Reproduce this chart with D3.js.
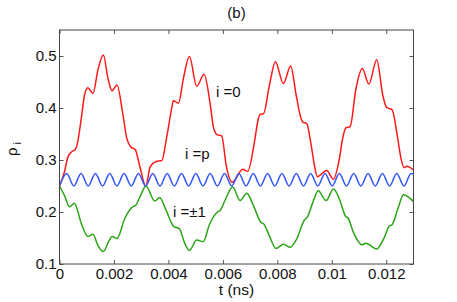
<!DOCTYPE html>
<html>
<head>
<meta charset="utf-8">
<script src="https://cdn.jsdelivr.net/npm/d3@7"></script>
<style>
  body { margin: 0; background: #fff; }
  text { font-family: "Liberation Sans", Arial, sans-serif; fill: #111; }
</style>
</head>
<body>
<div id="chart"></div>
<script>
// time axis values (ns) and ticks
var xTicks = [0, 0.002, 0.004, 0.006, 0.008, 0.01, 0.012];
var yTicks = [0.1, 0.2, 0.3, 0.4, 0.5];

// i = 0 (red)
var redT = [0, 0.00018, 0.00031, 0.00045, 0.00058, 0.00067, 0.0008, 0.00092, 0.00104, 0.00123, 0.00141, 0.00161,
  0.00178, 0.00193, 0.00211, 0.00233, 0.00247, 0.00262, 0.00278, 0.00294, 0.00317,
  0.00333, 0.00355, 0.00376, 0.00394, 0.00413, 0.00418, 0.00437, 0.00455, 0.00477, 0.00504, 0.00531,
  0.00553, 0.00565, 0.00578, 0.00596, 0.00612, 0.00634,
  0.00673, 0.00691, 0.00716, 0.00728, 0.00737, 0.00749, 0.00771, 0.00793, 0.00822, 0.00849,
  0.00869, 0.00887, 0.00893, 0.00908, 0.00924, 0.00936, 0.00947, 0.00981, 0.01006,
  0.01028, 0.0104, 0.01052, 0.01067, 0.01089, 0.01112, 0.01136, 0.01165,
  0.01187, 0.01199, 0.01205, 0.01221, 0.01242, 0.01254, 0.01266, 0.01275, 0.013];
var redV = [0.25, 0.277, 0.306, 0.316, 0.32, 0.335, 0.38, 0.425, 0.439, 0.428, 0.473, 0.502,
  0.457, 0.433, 0.444, 0.387, 0.342, 0.325, 0.32, 0.29, 0.25,
  0.287, 0.297, 0.299, 0.345, 0.402, 0.414, 0.409, 0.457, 0.499, 0.442, 0.465,
  0.409, 0.364, 0.349, 0.346, 0.29, 0.257,
  0.282, 0.278, 0.335, 0.374, 0.388, 0.389, 0.444, 0.489, 0.447, 0.481,
  0.425, 0.38, 0.373, 0.37, 0.329, 0.29, 0.268, 0.28, 0.263,
  0.303, 0.342, 0.362, 0.364, 0.438, 0.476, 0.446, 0.493,
  0.425, 0.403, 0.4, 0.397, 0.342, 0.303, 0.285, 0.288, 0.281];

// i = ±1 (green)
var greenT = [0, 0.00018, 0.00037, 0.00055, 0.0008, 0.00104, 0.00123, 0.0014, 0.00161, 0.00182, 0.00193, 0.00211,
  0.0024, 0.00268, 0.00278, 0.00298, 0.00317,
  0.0035, 0.00368, 0.0039, 0.0042, 0.0044, 0.0046, 0.00477, 0.00504, 0.00528, 0.0055, 0.0058, 0.0059, 0.0061, 0.00636,
  0.00663, 0.00688, 0.0071, 0.0074, 0.0075, 0.0077, 0.00795, 0.00822, 0.00847, 0.0087, 0.009, 0.0091, 0.0093,
  0.0095, 0.00979, 0.01006,
  0.0103, 0.0105, 0.0106, 0.0108, 0.0111, 0.01125, 0.01165, 0.0119, 0.0121, 0.01222, 0.01245, 0.01263, 0.013];
var greenV = [0.25, 0.232, 0.21, 0.217, 0.178, 0.153, 0.157, 0.137, 0.124, 0.145, 0.153, 0.149,
  0.188, 0.21, 0.212, 0.232, 0.25,
  0.221, 0.228, 0.205, 0.172, 0.168, 0.14, 0.126, 0.146, 0.143, 0.175, 0.2, 0.203, 0.225, 0.248,
  0.222, 0.236, 0.215, 0.18, 0.177, 0.155, 0.13, 0.138, 0.132, 0.147, 0.185, 0.19, 0.218,
  0.241, 0.222, 0.244,
  0.222, 0.192, 0.188, 0.16, 0.137, 0.14, 0.129, 0.148, 0.172, 0.176, 0.21, 0.233, 0.22];

// i = p (blue), troughs and crests
var blueT = [0, 0.000264, 0.000527, 0.000791, 0.001054, 0.001318, 0.001581, 0.001845, 0.002108, 0.002372,
  0.002635, 0.002899, 0.003162, 0.003426, 0.003689, 0.003953, 0.004216, 0.00448, 0.004743, 0.005007,
  0.00527, 0.005534, 0.005797, 0.006061, 0.006324, 0.006588, 0.006851, 0.007115, 0.007378, 0.007642,
  0.007905, 0.008169, 0.008432, 0.008696, 0.008959, 0.009223, 0.009486, 0.00975, 0.010013, 0.010277,
  0.01054, 0.010804, 0.011067, 0.011331, 0.011594, 0.011858, 0.012121, 0.012385, 0.012648, 0.012912, 0.013];
var blueV = [0.25, 0.274, 0.25, 0.274, 0.25, 0.274, 0.25, 0.274, 0.25, 0.274,
  0.25, 0.274, 0.25, 0.274, 0.25, 0.274, 0.25, 0.274, 0.25, 0.274,
  0.25, 0.274, 0.25, 0.274, 0.25, 0.274, 0.25, 0.274, 0.25, 0.274,
  0.25, 0.274, 0.25, 0.274, 0.25, 0.274, 0.25, 0.274, 0.25, 0.274,
  0.25, 0.274, 0.25, 0.274, 0.25, 0.274, 0.25, 0.274, 0.25, 0.274, 0.273];

var svg = d3.select("#chart").append("svg").attr("width", 457).attr("height", 302);

var x = d3.scaleLinear().domain([0, 0.013]).range([59.5, 413.5]);
var y = d3.scaleLinear().domain([0.1, 0.55]).range([264, 30]);

// axes, ticks pointing inward on all sides
var fmt = function (d) { return d3.format("~g")(d); };
var axBottom = svg.append("g").attr("transform", "translate(0,264)")
  .call(d3.axisBottom(x).tickValues(xTicks).tickSize(-4).tickPadding(4).tickFormat(fmt));
var axLeft = svg.append("g").attr("transform", "translate(59.5,0)")
  .call(d3.axisLeft(y).tickValues(yTicks).tickSize(-4).tickPadding(3).tickFormat(fmt));
var axTop = svg.append("g").attr("transform", "translate(0,30)")
  .call(d3.axisTop(x).tickValues(xTicks).tickSize(-4).tickFormat(""));
var axRight = svg.append("g").attr("transform", "translate(413.5,0)")
  .call(d3.axisRight(y).tickValues(yTicks).tickSize(-4).tickFormat(""));

[axBottom, axLeft, axTop, axRight].forEach(function (g) {
  g.select(".domain").remove();
  g.selectAll("line").attr("stroke", "#555");
  g.selectAll("text").style("font-size", "15px").attr("fill", "#111")
    .style("font-family", "Liberation Sans, Arial, sans-serif");
});

var line = d3.line()
  .x(function (d) { return x(d[0]); })
  .y(function (d) { return y(d[1]); })
  .curve(d3.curveMonotoneX);

function draw(ts, vs, color) {
  svg.append("path")
    .datum(d3.zip(ts, vs))
    .attr("d", line)
    .attr("fill", "none")
    .attr("stroke", color)
    .attr("stroke-width", 1.5);
}

draw(redT, redV, "#ff1a1a");
draw(greenT, greenV, "#2aa515");
draw(blueT, blueV, "#3355ff");

// frame
svg.append("rect").attr("x", 59.5).attr("y", 30).attr("width", 354).attr("height", 234)
  .attr("fill", "none").attr("stroke", "#444").attr("stroke-width", 1);

// labels
svg.append("text").text("(b)").attr("x", 236.5).attr("y", 18).attr("text-anchor", "middle").style("font-size", "15px");
svg.append("text").text("t (ns)").attr("x", 236.5).attr("y", 295).attr("text-anchor", "middle").style("font-size", "15.5px");

var yl = svg.append("text").attr("transform", "translate(17,156) rotate(-90)").style("font-size", "15px");
yl.append("tspan").text("ρ");
yl.append("tspan").text("i").attr("dx", 3).attr("dy", 4).style("font-size", "11px");

svg.append("text").text("i =0").attr("x", 216).attr("y", 97).style("font-size", "15px");
svg.append("text").text("i =p").attr("x", 185).attr("y", 159).style("font-size", "15px");
svg.append("text").text("i =±1").attr("x", 173).attr("y", 217).style("font-size", "15px");
</script>
</body>
</html>
